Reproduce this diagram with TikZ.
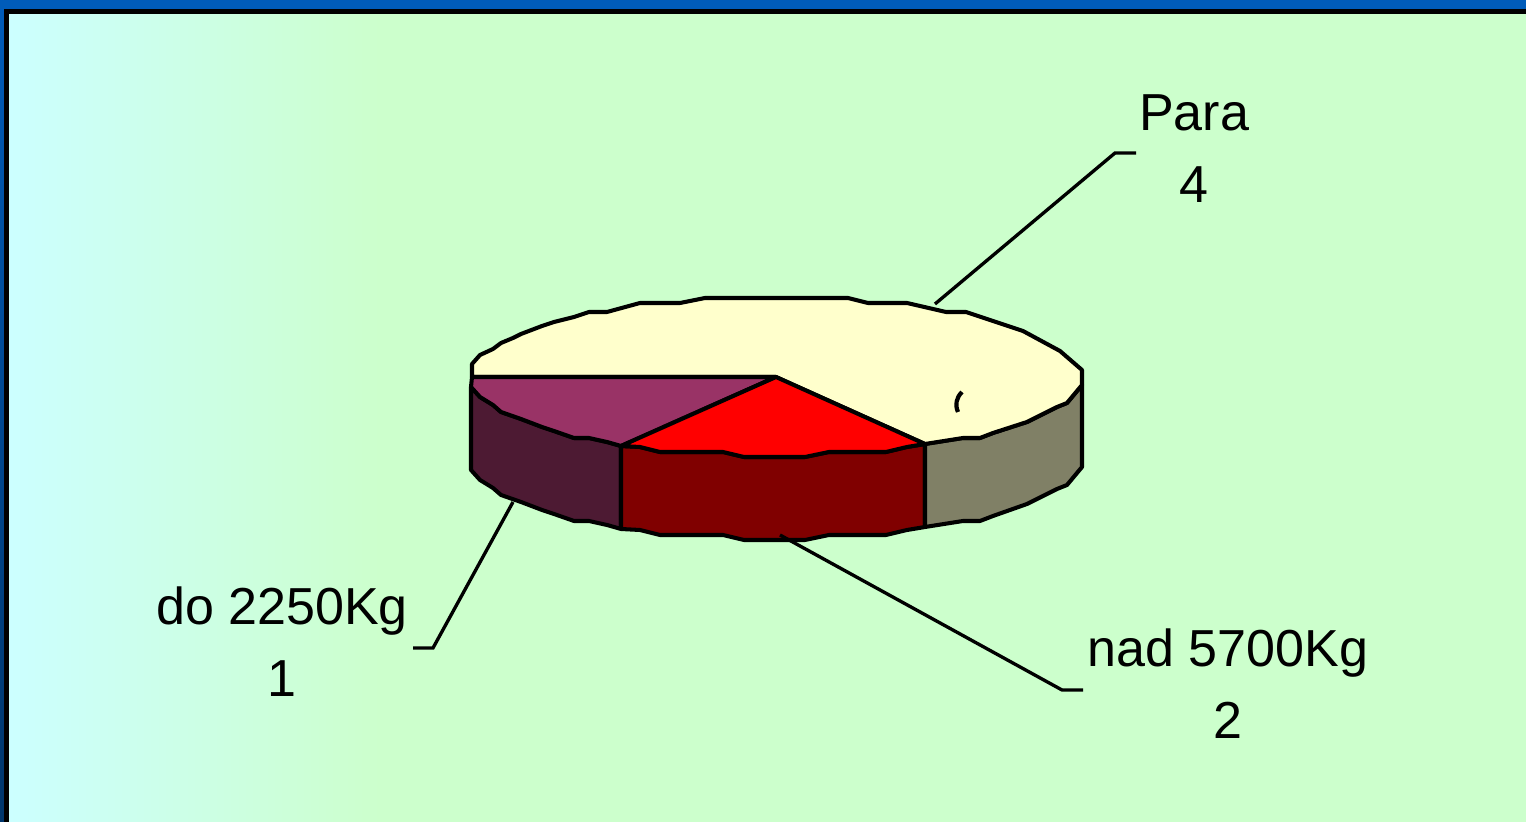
\documentclass[tikz,border=0pt]{standalone}
\usepackage{fontspec}
\setmainfont{Liberation Sans}
\definecolor{bgreen}{HTML}{CCFFCC}
\definecolor{bcyan}{HTML}{CCFFFF}
\definecolor{frameblue}{HTML}{005CB9}
\definecolor{framenavy}{HTML}{00366B}
\definecolor{creamtop}{HTML}{FFFFCC}
\definecolor{creamside}{HTML}{808066}
\definecolor{plumtop}{HTML}{993366}
\definecolor{plumside}{HTML}{4D1A33}
\definecolor{redtop}{HTML}{FF0000}
\definecolor{redside}{HTML}{800000}
\begin{document}
\begin{tikzpicture}[x=0.01cm,y=-0.01cm,
    face/.style={draw=black,line width=1.15pt,line join=round},
    leader/.style={draw=black,line width=0.95pt},
    lbl/.style={font=\fontsize{14.8}{20.5}\selectfont,align=center,anchor=base,inner sep=0pt}]
      \useasboundingbox (0,0) rectangle (1526,822);
      \fill[bgreen] (0,0) rectangle (1526,822);
      \shade[left color=bcyan,right color=bgreen] (9,14) rectangle (380,822);
      \fill[frameblue] (0,0) rectangle (1526,9);
      \shade[top color=frameblue,bottom color=framenavy] (0,0) rectangle (4,822);
      \fill[black] (4,9) rectangle (1526,14);
      \fill[black] (4,9) rectangle (9,822);
      \begin{scope}[shift={(776,377)}]
      \draw[face,fill=plumside] (-305,10) -- (-296,20) -- (-283,28) -- (-275,35) -- (-255,42) -- (-234,50) -- (-222,54) -- (-202,61) -- (-187,61) -- (-169,65) -- (-155,69)
        -- (-155,152) -- (-169,148) -- (-187,144) -- (-202,144) -- (-222,137) -- (-234,133) -- (-255,125) -- (-275,118) -- (-283,111) -- (-296,103) -- (-305,93) -- cycle;
      \draw[face,fill=redside] (-155,69) -- (-136,70) -- (-116,75) -- (-53,75) -- (-32,80) -- (29,80) -- (53,75) -- (110,75) -- (131,70) -- (149,67)
        -- (149,150) -- (131,153) -- (110,158) -- (53,158) -- (29,163) -- (-32,163) -- (-53,158) -- (-116,158) -- (-136,153) -- (-155,152) -- cycle;
      \draw[face,fill=creamside] (149,67) -- (187,61) -- (204,61) -- (217,56) -- (251,45) -- (281,30) -- (291,26) -- (306,8)
        -- (306,90) -- (291,108) -- (281,112) -- (251,127) -- (217,139) -- (204,144) -- (187,144) -- (149,150) -- cycle;
      \draw[face,fill=creamtop] (0,0) -- (-304,0) -- (-304,-13) -- (-296,-22) -- (-283,-28) -- (-275,-34) -- (-263,-39) -- (-255,-43) -- (-234,-51) -- (-222,-55) -- (-202,-60) -- (-187,-65) -- (-169,-65) -- (-136,-74) -- (-96,-74) -- (-71,-79)
        -- (72,-79) -- (92,-74) -- (131,-74) -- (170,-65) -- (190,-65) -- (247,-46) -- (284,-26) -- (306,-7) -- (306,8)
        -- (291,26) -- (281,30) -- (251,45) -- (217,56) -- (204,61) -- (187,61) -- (149,67) -- cycle;
      \draw[face,fill=plumtop] (0,0) -- (-304,0) -- (-305,10) -- (-296,20) -- (-283,28) -- (-275,35) -- (-255,42) -- (-234,50) -- (-222,54) -- (-202,61) -- (-187,61) -- (-169,65) -- (-155,69) -- cycle;
      \draw[face,fill=redtop] (0,0) -- (-155,69) -- (-136,70) -- (-116,75) -- (-53,75) -- (-32,80) -- (29,80) -- (53,75) -- (110,75) -- (131,70) -- (149,67) -- cycle;
      \draw[line width=1.2pt] (186,15) .. controls (180,21) and (179,28) .. (182,35);
      \end{scope}
      \node[lbl] (para) at (1194,203) {Para\\4};
      \node[lbl] (do) at (282,697) {do 2250Kg\\1};
      \node[lbl] (nad) at (1228,739) {nad 5700Kg\\2};
      \coordinate (para1) at (935,304); \coordinate (para2) at (1115,153); \coordinate (para3) at (1136,153);
      \coordinate (do1) at (513,502); \coordinate (do2) at (433,648); \coordinate (do3) at (413,648);
      \coordinate (nad1) at (780,535); \coordinate (nad2) at (1062,690); \coordinate (nad3) at (1083,690);
      \draw[leader] (para1) -- (para2) -- (para3);
      \draw[leader] (do1) -- (do2) -- (do3);
      \draw[leader] (nad1) -- (nad2) -- (nad3);
\end{tikzpicture}
\end{document}
